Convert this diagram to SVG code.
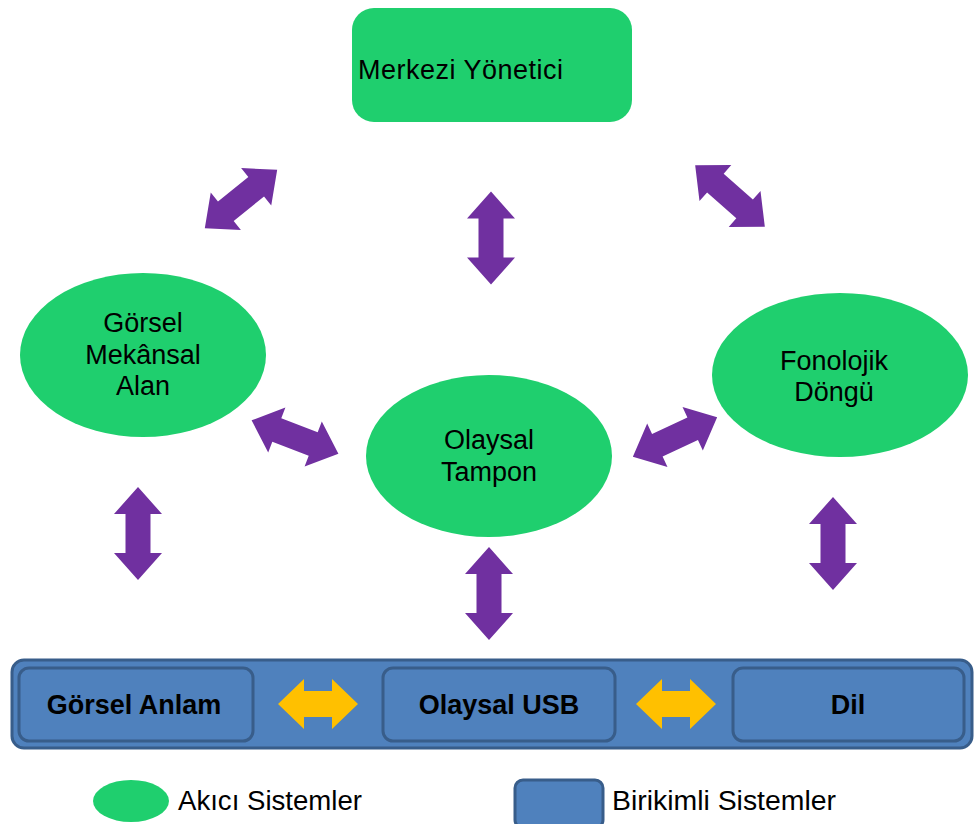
<svg xmlns="http://www.w3.org/2000/svg" xmlns:xlink="http://www.w3.org/1999/xlink" width="974" height="824" viewBox="0 0 974 824">
<style>
.green{fill:#1fcf6e}
.blue{fill:#4f81bd;stroke:#385d8a;stroke-width:3}
.purple{fill:#7030a0}
.yellow{fill:#ffc000}
.t{font-family:"Liberation Sans",Arial,sans-serif;font-size:27px;fill:#000}
.b{font-family:"Liberation Sans",Arial,sans-serif;font-size:27px;font-weight:bold;fill:#000;text-anchor:middle}
.c{text-anchor:middle}
</style>
<defs>
<polygon id="dbl" points="-46.5,0 -19.5,-24 -19.5,-12.5 19.5,-12.5 19.5,-24 46.5,0 19.5,24 19.5,12.5 -19.5,12.5 -19.5,24"/>
<polygon id="ydbl" points="-40,0 -14,-25 -14,-13 14,-13 14,-25 40,0 14,25 14,13 -14,13 -14,25"/>
</defs>
<rect width="974" height="824" fill="#fff"/>

<g id="merkezi">
<rect class="green" x="352" y="8" width="280" height="114" rx="22"/>
<text class="t" x="358" y="79" font-size="28" textLength="205" lengthAdjust="spacing">Merkezi Yönetici</text>
</g>
<g id="gorsel-mekansal">
<ellipse class="green" cx="143" cy="355" rx="123" ry="82"/>
<text class="t c" x="143" y="332">Görsel</text>
<text class="t c" x="143" y="364">Mekânsal</text>
<text class="t c" x="143" y="395">Alan</text>
</g>
<g id="olaysal-tampon">
<ellipse class="green" cx="489" cy="456" rx="123" ry="81"/>
<text class="t c" x="489" y="449">Olaysal</text>
<text class="t c" x="489" y="481">Tampon</text>
</g>
<g id="fonolojik">
<ellipse class="green" cx="840" cy="375" rx="128" ry="82"/>
<text class="t c" x="834" y="370">Fonolojik</text>
<text class="t c" x="834" y="401">Döngü</text>
</g>
<g id="bar">
<rect class="blue" x="12" y="660" width="960" height="88" rx="12"/>
</g>
<g id="gorsel-anlam">
<rect class="blue" x="19" y="668" width="234" height="73" rx="10"/>
<text class="b" x="134" y="714">Görsel Anlam</text>
</g>
<g id="olaysal-usb">
<rect class="blue" x="383" y="668" width="232" height="73" rx="10"/>
<text class="b" x="499" y="714">Olaysal USB</text>
</g>
<g id="dil">
<rect class="blue" x="733" y="668" width="231" height="73" rx="10"/>
<text class="b" x="848" y="714">Dil</text>
</g>

<g id="connectors">
<use href="#dbl" class="purple" transform="translate(241,199) rotate(-38.9)"/>
<use href="#dbl" class="purple" transform="translate(491,238) rotate(90)"/>
<use href="#dbl" class="purple" transform="translate(730,196) rotate(41.5)"/>
<use href="#dbl" class="purple" transform="translate(295,437) rotate(21)"/>
<use href="#dbl" class="purple" transform="translate(675,437) rotate(-25)"/>
<use href="#dbl" class="purple" transform="translate(138,533.5) rotate(90)"/>
<use href="#dbl" class="purple" transform="translate(489,593.5) rotate(90)"/>
<use href="#dbl" class="purple" transform="translate(833,543.5) rotate(90)"/>
<use href="#ydbl" class="yellow" transform="translate(318,704)"/>
<use href="#ydbl" class="yellow" transform="translate(676,704)"/>
</g>

<g id="legend">
<ellipse class="green" cx="131" cy="801" rx="38" ry="21"/>
<text class="t" x="178" y="810" font-size="28" textLength="184" lengthAdjust="spacingAndGlyphs">Akıcı Sistemler</text>
<rect class="blue" x="515" y="780" width="88" height="48" rx="8"/>
<text class="t" x="612" y="810" font-size="28" textLength="224" lengthAdjust="spacingAndGlyphs">Birikimli Sistemler</text>
</g>
</svg>
